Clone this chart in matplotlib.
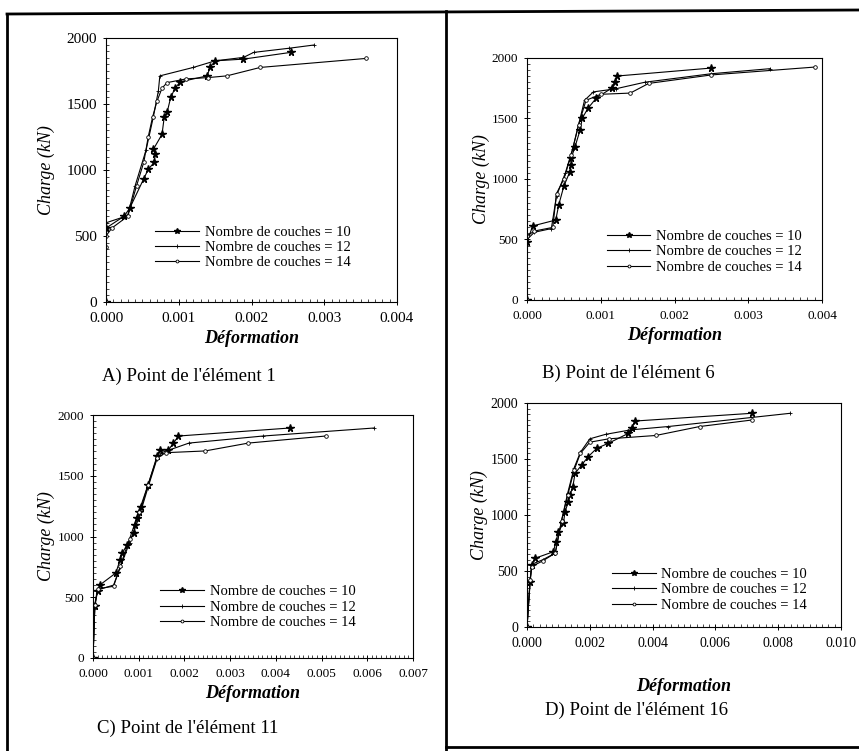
import matplotlib
matplotlib.use('Agg')
import matplotlib.pyplot as plt
from matplotlib.lines import Line2D
from matplotlib.ticker import MultipleLocator

plt.rcParams['font.family'] = ['Liberation Serif', 'DejaVu Serif']

legend_labels = ["Nombre de couches = 10", "Nombre de couches = 12", "Nombre de couches = 14"]

# A) element 1
a_eps10 = [0, 0.0, 0.00025, 0.00033, 0.00052, 0.00058, 0.00066, 0.00068, 0.00065, 0.00077, 0.0008,
           0.00084, 0.00089, 0.00095, 0.00102, 0.00139, 0.00143, 0.0015, 0.00189, 0.00254]
a_load10 = [0, 560, 650, 715, 935, 1004, 1057, 1118, 1156, 1270, 1399,
            1437, 1551, 1620, 1668, 1713, 1777, 1827, 1840, 1891]
a_eps12 = [0, 0.0, 0.00022, 0.0003, 0.0004, 0.00055, 0.00065, 0.00072, 0.00074, 0.0012, 0.0015,
           0.00189, 0.00203, 0.00251, 0.00286]
a_load12 = [0, 600, 640, 660, 880, 1150, 1400, 1600, 1713, 1777, 1827, 1853, 1891, 1922, 1947]
a_eps14 = [0, 0.0, 0.0, 0.00008, 0.0003, 0.00042, 0.00052, 0.00058, 0.00064, 0.0007, 0.00077,
           0.00084, 0.0011, 0.0014, 0.00166, 0.00212, 0.00357]
a_load14 = [0, 420, 500, 560, 650, 880, 1060, 1250, 1400, 1520, 1620, 1662, 1690, 1700, 1713, 1777, 1845]

# B) element 6
b_eps10 = [0, 0.0, 0.000077, 0.00039, 0.00043, 0.0005, 0.00058, 0.0006, 0.0006, 0.00065, 0.00072,
           0.00075, 0.00083, 0.00094, 0.00115, 0.00119, 0.00122, 0.0025]
b_load10 = [0, 480, 612, 661, 785, 942, 1058, 1116, 1174, 1264, 1405, 1504, 1587, 1669, 1752, 1802, 1851, 1917]
b_eps12 = [0, 0.0, 0.0001, 0.00033, 0.0004, 0.00052, 0.00062, 0.0007, 0.00078, 0.0009, 0.0012,
           0.0016, 0.0025, 0.0033]
b_load12 = [0, 500, 560, 590, 860, 1050, 1250, 1450, 1650, 1720, 1745, 1800, 1870, 1912]
b_eps14 = [0, 0.0, 0.0001, 0.00035, 0.0004, 0.0005, 0.0006, 0.0007, 0.0008, 0.001, 0.0014,
           0.00165, 0.0025, 0.0039]
b_load14 = [0, 530, 570, 600, 880, 1000, 1200, 1450, 1650, 1700, 1710, 1790, 1860, 1925]

# C) element 11
c_eps10 = [0, 0.00004, 0.0001, 0.00015, 0.0005, 0.00059, 0.00064, 0.00074, 0.0009, 0.00092, 0.00096,
           0.001, 0.00106, 0.0012, 0.0014, 0.00147, 0.00165, 0.00176, 0.00187, 0.00431]
c_load10 = [0, 430, 550, 601, 700, 806, 861, 930, 1029, 1094, 1152, 1202, 1245, 1420, 1660,
            1712, 1712, 1769, 1827, 1893]
c_eps12 = [0, 0.00004, 0.0001, 0.00045, 0.0006, 0.0008, 0.001, 0.0012, 0.0014, 0.0015, 0.0021,
           0.00372, 0.00615]
c_load12 = [0, 430, 560, 600, 750, 950, 1150, 1400, 1640, 1690, 1769, 1827, 1893]
c_eps14 = [0, 0.00004, 0.0001, 0.00045, 0.0006, 0.0008, 0.001, 0.0012, 0.0014, 0.0016, 0.00245,
           0.0034, 0.00509]
c_load14 = [0, 440, 570, 590, 760, 980, 1200, 1420, 1650, 1690, 1704, 1769, 1827]

# D) element 16
d_eps10 = [0, 0.0001, 0.00015, 0.00025, 0.00084, 0.00092, 0.001, 0.00116, 0.00121, 0.00132, 0.00137,
           0.00146, 0.00153, 0.00174, 0.00195, 0.00222, 0.00259, 0.00323, 0.00333, 0.00344, 0.00716]
d_load10 = [0, 400, 550, 613, 672, 762, 851, 926, 1030, 1119, 1179, 1253, 1372, 1446, 1521,
            1595, 1640, 1729, 1774, 1839, 1908]
d_eps12 = [0, 0.0001, 0.00015, 0.0005, 0.0009, 0.0011, 0.0013, 0.0015, 0.0017, 0.002, 0.0025,
           0.0033, 0.0045, 0.00838]
d_load12 = [0, 420, 560, 600, 660, 950, 1200, 1420, 1560, 1680, 1720, 1760, 1790, 1908]
d_eps14 = [0, 0.0001, 0.00015, 0.0005, 0.0009, 0.0011, 0.0013, 0.0015, 0.0017, 0.002, 0.0026,
           0.0041, 0.0055, 0.00716]
d_load14 = [0, 420, 540, 590, 660, 950, 1180, 1400, 1550, 1650, 1680, 1710, 1790, 1848]

W, H = 859, 751
fig = plt.figure(figsize=(W / 100, H / 100), dpi=100)


def box(x0, y0, x1, y1):
    # pixel box -> figure fraction [left, bottom, width, height]
    return [x0 / W, 1 - y1 / H, (x1 - x0) / W, (y1 - y0) / H]


def panel(rect, series, xstep, xticklabels, leg_xy, caption, cap_xy, xlabelpad, tick_fs, ylabelpad):
    ax = fig.add_axes(rect)
    styles = [dict(marker='*', ms=5.5, mfc='black', mec='black'),
              dict(marker='+', ms=3.5, mew=0.6, mec='black'),
              dict(marker='o', ms=2.6, mew=0.6, mfc='white', mec='black')]
    for (x, y), st, lab in zip(series, styles, legend_labels):
        ax.plot(x, y, color='black', lw=0.8, label=lab, **st)
    xmax = xstep * (len(xticklabels) - 1)
    ax.set_xticks([i * xstep for i in range(len(xticklabels))])
    ax.set_xticklabels(xticklabels)
    ax.xaxis.set_minor_locator(MultipleLocator(xstep / 10))
    ax.yaxis.set_major_locator(MultipleLocator(500))
    ax.yaxis.set_minor_locator(MultipleLocator(50))
    ax.set_xlim(0, xmax)
    ax.set_ylim(0, 2000)
    ax.tick_params(axis='x', which='major', pad=5)
    ax.tick_params(axis='y', which='major', pad=4)
    ax.tick_params(which='major', direction='inout', length=5, width=0.7, labelsize=tick_fs)
    ax.tick_params(which='minor', direction='in', length=2.5, width=0.5)
    for s in ax.spines.values():
        s.set_linewidth(0.8)
    ax.set_ylabel('Charge (kN)', fontsize=13, style='italic', labelpad=ylabelpad)
    ax.set_xlabel('Déformation', fontsize=13, style='italic', fontweight='bold', labelpad=xlabelpad)
    ax.legend(loc='upper left', bbox_to_anchor=leg_xy, frameon=False, fontsize=10.5,
              handlelength=3.0, handletextpad=0.4, labelspacing=0.15, borderpad=0, borderaxespad=0,
              markerscale=0.8)
    fig.text(cap_xy[0] / W, 1 - cap_xy[1] / H, caption, fontsize=13.5, va='center', ha='left')
    return ax


panel(box(106, 38, 397, 302), [(a_eps10, a_load10), (a_eps12, a_load12), (a_eps14, a_load14)],
      0.001, ['0.000', '0.001', '0.002', '0.003', '0.004'],
      (0.17, 0.29), "A) Point de l'élément 1", (102, 376), 3, 11, 8)
panel(box(527, 58, 822, 300), [(b_eps10, b_load10), (b_eps12, b_load12), (b_eps14, b_load14)],
      0.001, ['0.000', '0.001', '0.002', '0.003', '0.004'],
      (0.27, 0.29), "B) Point de l'élément 6", (542, 373), 3, 9.5, 1)
panel(box(93, 415, 413, 658), [(c_eps10, c_load10), (c_eps12, c_load12), (c_eps14, c_load14)],
      0.001, ['0.000', '0.001', '0.002', '0.003', '0.004', '0.005', '0.006', '0.007'],
      (0.21, 0.30), "C) Point de l'élément 11", (97, 728), 3, 9.5, 2)
panel(box(527, 403, 841, 627), [(d_eps10, d_load10), (d_eps12, d_load12), (d_eps14, d_load14)],
      0.002, ['0.000', '0.002', '0.004', '0.006', '0.008', '0.010'],
      (0.27, 0.265), "D) Point de l'élément 16", (545, 710), 20, 10, 2)

# scanned page frames
frame = [((7, 14), (7, 751)), ((7, 14), (859, 10)), ((446, 11), (446, 751)), ((446, 747), (859, 747))]
for (x0, y0), (x1, y1) in frame:
    fig.add_artist(Line2D([x0 / W, x1 / W], [1 - y0 / H, 1 - y1 / H], color='black', lw=2.0))

fig.savefig('out.png', dpi=100)
